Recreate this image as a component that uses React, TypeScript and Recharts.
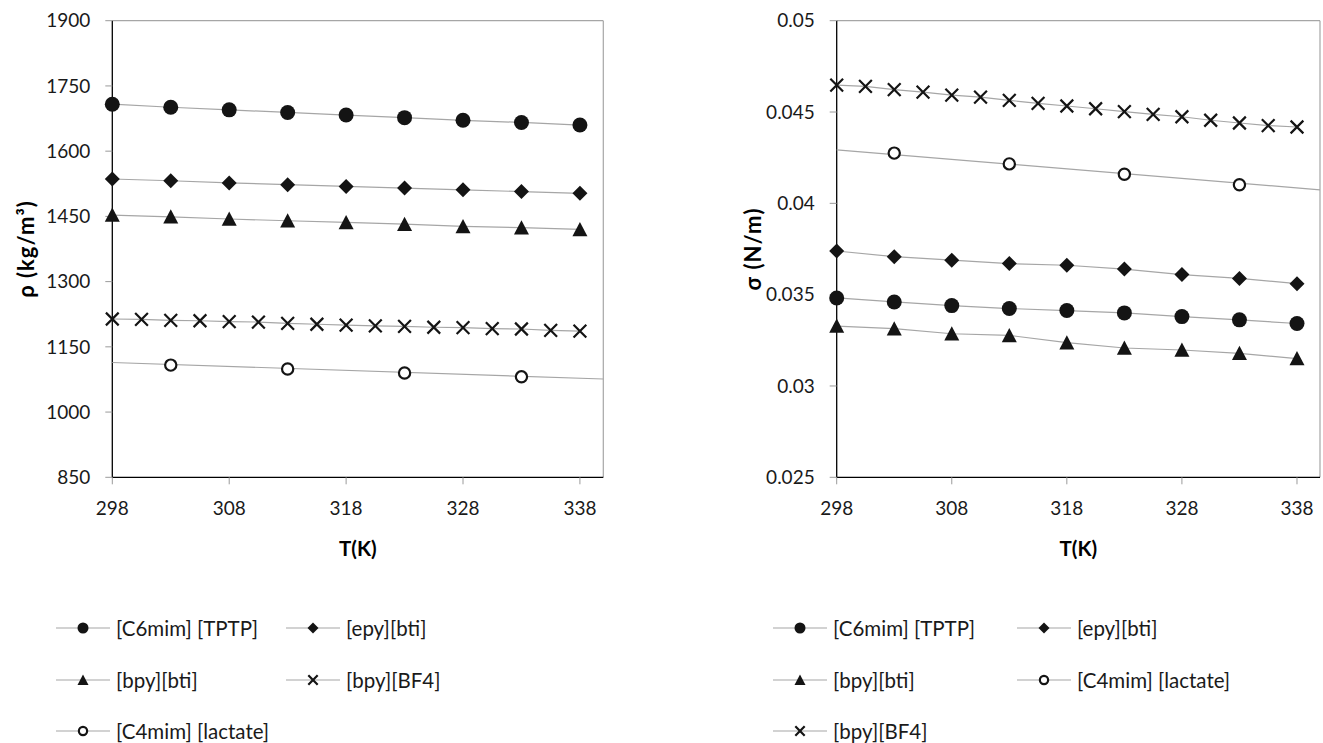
import React from 'react'
import { ScatterChart, Scatter, XAxis, YAxis, ReferenceLine, Legend } from 'recharts'

// temperatures, K
const tempsMain = [298, 303, 308, 313, 318, 323, 328, 333, 338]
const tempsBf4 = [298, 300.5, 303, 305.5, 308, 310.5, 313, 315.5, 318, 320.5, 323, 325.5, 328, 330.5, 333, 335.5, 338]
const tempsLactate = [303, 313, 323, 333]
const trendEnds = [298, 340]
const tempTicks = [298, 308, 318, 328, 338]

// density, kg/m3
const rhoC6mim = [1708, 1701, 1695, 1689, 1683, 1677, 1671, 1666, 1660]
const rhoEpy = [1536, 1532, 1527, 1523, 1519, 1515, 1511, 1507, 1503]
const rhoBpyBti = [1453, 1449, 1444, 1440, 1436, 1432, 1427, 1424, 1420]
const rhoBpyBf4 = [1214, 1213, 1211, 1210, 1208, 1207, 1204, 1202, 1200, 1198, 1197, 1195, 1194, 1192, 1191, 1188, 1186]
const rhoLactate = [1108, 1099, 1090, 1081]
const rhoLactateTrend = [1114, 1076]
const rhoTicks = [850, 1000, 1150, 1300, 1450, 1600, 1750, 1900]

// surface tension, N/m
const sigmaC6mim = [0.03482, 0.0346, 0.0344, 0.03424, 0.03413, 0.034, 0.0338, 0.03362, 0.03342]
const sigmaEpy = [0.03739, 0.03708, 0.03689, 0.0367, 0.03661, 0.0364, 0.0361, 0.03589, 0.0356]
const sigmaBpyBti = [0.03328, 0.03314, 0.03286, 0.03277, 0.03237, 0.03208, 0.03197, 0.03179, 0.0315]
const sigmaBpyBf4 = [0.04647, 0.0464, 0.04623, 0.04609, 0.04592, 0.04582, 0.04564, 0.04547, 0.04533, 0.04518, 0.04502, 0.04487, 0.04474, 0.04455, 0.0444, 0.04426, 0.04418]
const sigmaLactate = [0.04275, 0.04216, 0.04159, 0.04102]
const sigmaLactateTrend = [0.04293, 0.04074]
const sigmaTicks = [0.025, 0.03, 0.035, 0.04, 0.045, 0.05]

type Kind = 'dot' | 'diamond' | 'triangle' | 'cross' | 'ring'
type Pt = { t: number; v: number }
type Series = { name: string; kind: Kind; data: Pt[] }

const zip = (ts: number[], vs: number[]): Pt[] => ts.map((t, i) => ({ t, v: vs[i] }))

const INK = '#141414'
const LINE = '#a6a6a6'
const FONT = 'Lato, "Open Sans", sans-serif'

function Glyph({ kind, cx, cy, r }: { kind: Kind; cx: number; cy: number; r: number }) {
  switch (kind) {
    case 'dot':
      return <circle cx={cx} cy={cy} r={r} fill={INK} />
    case 'diamond':
      return <path d={`M${cx},${cy - r} L${cx + r},${cy} L${cx},${cy + r} L${cx - r},${cy} Z`} fill={INK} />
    case 'triangle':
      return <path d={`M${cx},${cy - r} L${cx + r},${cy + r * 0.9} L${cx - r},${cy + r * 0.9} Z`} fill={INK} />
    case 'cross': {
      const a = r * 0.85
      return (
        <path
          d={`M${cx - a},${cy - a} L${cx + a},${cy + a} M${cx + a},${cy - a} L${cx - a},${cy + a}`}
          stroke={INK}
          strokeWidth={2.2}
          fill="none"
        />
      )
    }
    default:
      return <circle cx={cx} cy={cy} r={r * 0.75} fill="#fff" stroke={INK} strokeWidth={2.2} />
  }
}

const markerShape = (kind: Kind) => (p: any) => <Glyph kind={kind} cx={p.cx} cy={p.cy} r={7.5} />

// titles take their own position props, recharts overrides x / y on labels
function YTitle({ viewBox, posX, text }: any) {
  const cy = viewBox ? viewBox.y + viewBox.height / 2 : 249
  return (
    <text
      x={posX}
      y={cy}
      transform={`rotate(-90, ${posX}, ${cy})`}
      textAnchor="middle"
      dominantBaseline="central"
      style={{ fontFamily: FONT, fontSize: 22, fontWeight: 700, fill: '#000', letterSpacing: 1 }}>
      {text}
    </text>
  )
}

function XTitle({ viewBox, posY, text }: any) {
  const cx = viewBox ? viewBox.x + viewBox.width / 2 : 357
  return (
    <text
      x={cx}
      y={posY}
      textAnchor="middle"
      dominantBaseline="central"
      style={{ fontFamily: FONT, fontSize: 20.5, fontWeight: 700, fill: '#000' }}>
      {text}
    </text>
  )
}

function LegendBlock({ items, x0, x1 }: { items: Series[]; x0: number; x1: number }) {
  return (
    <div style={{ position: 'relative', width: '100%', height: 130, fontFamily: FONT, fontSize: 20.5, color: '#1a1a1a' }}>
      {items.map((it, i) => (
        <div
          key={it.name}
          style={{
            position: 'absolute',
            left: i % 2 ? x1 : x0,
            top: Math.floor(i / 2) * 51.5,
            height: 24,
            display: 'flex',
            alignItems: 'center',
            whiteSpace: 'nowrap'
          }}>
          <svg width={54} height={24}>
            <line x1={0} y1={12} x2={54} y2={12} stroke={LINE} strokeWidth={1.2} />
            <Glyph kind={it.kind} cx={27} cy={12} r={5.5} />
          </svg>
          <span style={{ marginLeft: 6 }}>{it.name}</span>
        </div>
      ))}
    </div>
  )
}

type PanelProps = {
  width: number
  axisWidth: number
  right: number
  series: Series[]
  trend: Pt[]
  yDomain: [number, number]
  yTicks: number[]
  yTitle: string
  yTitleX: number
  legendX: [number, number]
}

function Panel(props: PanelProps) {
  const { width, axisWidth, right, series, trend, yDomain, yTicks, yTitle, yTitleX, legendX } = props
  return (
    <ScatterChart
      width={width}
      height={743}
      margin={{ top: 20.7, right, bottom: 225.7, left: 0 }}
      style={{ fontFamily: FONT }}>
      <XAxis
        type="number"
        dataKey="t"
        domain={[298, 340]}
        ticks={tempTicks}
        interval={0}
        height={40}
        tickSize={7}
        tickMargin={17}
        tick={{ fill: '#1a1a1a', fontSize: 19, fontFamily: FONT }}
        tickLine={{ stroke: '#9a9a9a' }}
        axisLine={{ stroke: '#000', strokeWidth: 1.3 }}
        label={<XTitle posY={548} text="T(K)" />}
      />
      <YAxis
        type="number"
        dataKey="v"
        domain={yDomain}
        ticks={yTicks}
        interval={0}
        width={axisWidth}
        tickSize={7}
        tickMargin={15}
        tick={{ fill: '#1a1a1a', fontSize: 19, fontFamily: FONT }}
        tickLine={{ stroke: '#9a9a9a' }}
        axisLine={{ stroke: '#000', strokeWidth: 1.3 }}
        label={<YTitle posX={yTitleX} text={yTitle} />}
      />
      <ReferenceLine y={yDomain[1]} stroke={LINE} strokeWidth={1.2} />
      <ReferenceLine x={340} stroke={LINE} strokeWidth={1.2} />
      <Scatter
        data={trend}
        line={{ stroke: LINE, strokeWidth: 1.2 }}
        shape={() => <g />}
        legendType="none"
        isAnimationActive={false}
      />
      {series.map((s) => (
        <Scatter
          key={s.name}
          name={s.name}
          data={s.data}
          fill={INK}
          line={s.kind === 'ring' ? false : { stroke: LINE, strokeWidth: 1.2 }}
          shape={markerShape(s.kind)}
          isAnimationActive={false}
        />
      ))}
      <Legend
        layout="horizontal"
        align="center"
        verticalAlign="middle"
        wrapperStyle={{ top: 616, left: 0, width, height: 130 }}
        content={() => <LegendBlock items={series} x0={legendX[0]} x1={legendX[1]} />}
      />
    </ScatterChart>
  )
}

const densitySeries: Series[] = [
  { name: '[C6mim] [TPTP]', kind: 'dot', data: zip(tempsMain, rhoC6mim) },
  { name: '[epy][bti]', kind: 'diamond', data: zip(tempsMain, rhoEpy) },
  { name: '[bpy][bti]', kind: 'triangle', data: zip(tempsMain, rhoBpyBti) },
  { name: '[bpy][BF4]', kind: 'cross', data: zip(tempsBf4, rhoBpyBf4) },
  { name: '[C4mim] [lactate]', kind: 'ring', data: zip(tempsLactate, rhoLactate) }
]

const tensionSeries: Series[] = [
  { name: '[C6mim] [TPTP]', kind: 'dot', data: zip(tempsMain, sigmaC6mim) },
  { name: '[epy][bti]', kind: 'diamond', data: zip(tempsMain, sigmaEpy) },
  { name: '[bpy][bti]', kind: 'triangle', data: zip(tempsMain, sigmaBpyBti) },
  { name: '[C4mim] [lactate]', kind: 'ring', data: zip(tempsLactate, sigmaLactate) },
  { name: '[bpy][BF4]', kind: 'cross', data: zip(tempsBf4, sigmaBpyBf4) }
]

export default function App() {
  return (
    <div style={{ position: 'absolute', left: 0, top: 0, width: 1323, height: 743, display: 'flex', background: '#fff' }}>
      <Panel
        width={661}
        axisWidth={112.3}
        right={57.7}
        series={densitySeries}
        trend={zip(trendEnds, rhoLactateTrend)}
        yDomain={[850, 1900]}
        yTicks={rhoTicks}
        yTitle="ρ (kg/m³)"
        yTitleX={25}
        legendX={[56, 286]}
      />
      <Panel
        width={662}
        axisWidth={175.7}
        right={3}
        series={tensionSeries}
        trend={zip(trendEnds, sigmaLactateTrend)}
        yDomain={[0.025, 0.05]}
        yTicks={sigmaTicks}
        yTitle="σ (N/m)"
        yTitleX={91}
        legendX={[112, 356]}
      />
    </div>
  )
}
